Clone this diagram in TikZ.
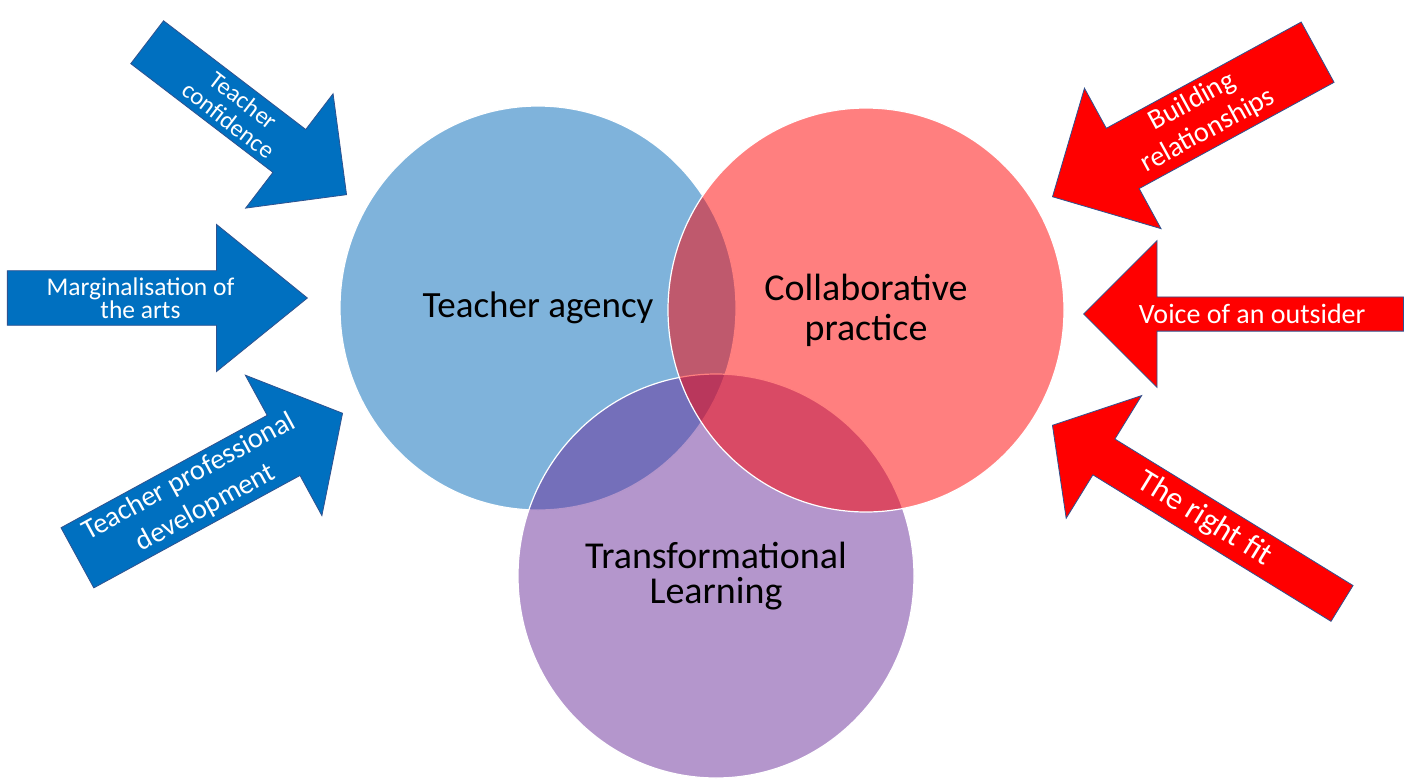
\documentclass[tikz,border=0pt]{standalone}
\usepackage{fontspec}
\setmainfont{Carlito}
\usetikzlibrary{shapes.geometric,shapes.arrows}
\definecolor{AgencyBlue}{RGB}{0,103,183}
\definecolor{PracticeRed}{RGB}{255,0,0}
\definecolor{LearningPurple}{RGB}{105,45,153}
\definecolor{PushBlue}{RGB}{0,112,192}
\definecolor{PushRed}{RGB}{255,0,0}
\definecolor{Rim}{RGB}{47,82,143}
\tikzset{
	venn/.style={ellipse, minimum width=396pt, minimum height=404pt, inner sep=0pt, draw=white, line width=1.2pt, fill opacity=0.5, text opacity=1, align=center, font=\fontsize{38}{40}\selectfont},
	push/.style={single arrow, single arrow head extend=#1, draw=Rim, line width=0.8pt, inner sep=1pt, text=white, align=center, anchor=tip},
	pushin/.style={push=#1, fill=PushBlue},
	pushout/.style={push=#1, fill=PushRed, shape border rotate=180},
}
\begin{document}
\begin{tikzpicture}[x=1pt,y=-1pt]
	\useasboundingbox (0,0) rectangle (1408,780);
	% the three fields, red one on top
	\node (agency) [venn, fill=AgencyBlue, font=\fontsize{37}{40}\selectfont] at (538,308) {Teacher agency};
	\node (learning) [venn, fill=LearningPurple, font=\fontsize{38}{35}\selectfont] at (716,576) {Transformational\\Learning};
	\node (practice) [venn, fill=PracticeRed] at (866,310) {Collaborative\\practice};
	% pushing in from the left
	\node (confidence) [pushin=37.5pt, rotate=-37.4, minimum height=251pt, minimum width=144pt, single arrow tip angle=90, font=\fontsize{24.5}{25}\selectfont] at (347,195) {Teacher\\confidence};
	\node (margins) [pushin=37pt, minimum height=300pt, minimum width=147pt, single arrow tip angle=78, font=\fontsize{25.5}{20.5}\selectfont] at (308,298) {Marginalisation of\\the arts};
	\node (development) [pushin=41.5pt, rotate=28.6, minimum height=302pt, minimum width=160pt, single arrow tip angle=100, font=\fontsize{28.5}{35}\selectfont] at (343,413) {Teacher professional\\development};
	% pushing in from the right
	\node (relations) [pushout=40pt, rotate=28.6, minimum height=302pt, minimum width=160pt, single arrow tip angle=90, font=\fontsize{28.5}{33}\selectfont] at (1052,197) {Building\\relationships};
	\node (outsider) [pushout=37pt, minimum height=320pt, minimum width=147pt, single arrow tip angle=90, font=\fontsize{28}{30}\selectfont] at (1083,314) {Voice of an outsider};
	\node (fit) [pushout=37pt, rotate=-31.6, minimum height=340pt, minimum width=144pt, single arrow tip angle=100, font=\fontsize{32}{34}\selectfont] at (1052,425) {The right fit};
\end{tikzpicture}
\end{document}
